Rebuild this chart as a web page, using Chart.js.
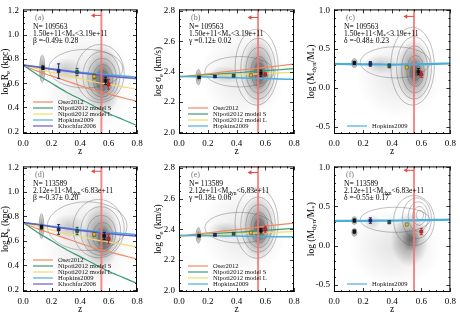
<!DOCTYPE html>
<html><head><meta charset="utf-8">
<script src="https://cdn.jsdelivr.net/npm/chart.js@4.4.0/dist/chart.umd.min.js"></script>
<style>
body{margin:0;background:#fff;width:460px;height:315px;overflow:hidden;position:relative}
canvas{position:absolute}
</style></head><body>
<canvas id="pa" width="150" height="157" style="left:0;top:0;width:150px;height:157px"></canvas>
<canvas id="pb" width="155" height="157" style="left:150px;top:0;width:155px;height:157px"></canvas>
<canvas id="pc" width="155" height="157" style="left:305px;top:0;width:155px;height:157px"></canvas>
<canvas id="pd" width="150" height="158" style="left:0;top:157px;width:150px;height:158px"></canvas>
<canvas id="pe" width="155" height="158" style="left:150px;top:157px;width:155px;height:158px"></canvas>
<canvas id="pf" width="155" height="158" style="left:305px;top:157px;width:155px;height:158px"></canvas>
<script>
var SERIF = '"Liberation Serif", "DejaVu Serif", serif';

// redshift grid for the model curves
var zGrid = [0, 0.1, 0.2, 0.3, 0.4, 0.5, 0.6, 0.7, 0.8];
var zCut = 0.55;

// model curves, size (log Re)
var reOser  = [0.75, 0.70, 0.66, 0.62, 0.58, 0.54, 0.51, 0.48, 0.45];
var reNipS  = [0.75, 0.67, 0.60, 0.53, 0.47, 0.41, 0.35, 0.30, 0.25];
var reNipL  = [0.75, 0.72, 0.69, 0.66, 0.64, 0.61, 0.59, 0.57, 0.55];
var reHop   = [0.75, 0.735, 0.72, 0.705, 0.69, 0.68, 0.67, 0.66, 0.65];
var reKhoch = [0.75, 0.733, 0.716, 0.70, 0.685, 0.672, 0.66, 0.648, 0.637];
// model curves, dispersion (log sigma)
var sgOserB = [2.365, 2.376, 2.386, 2.397, 2.408, 2.418, 2.429, 2.439, 2.45];
var sgNipSB = [2.365, 2.372, 2.379, 2.386, 2.393, 2.40, 2.407, 2.413, 2.42];
var sgNipLB = [2.365, 2.369, 2.373, 2.377, 2.381, 2.384, 2.388, 2.392, 2.395];
var sgHopB  = [2.37, 2.367, 2.365, 2.362, 2.36, 2.357, 2.355, 2.352, 2.35];
var sgOserE = [2.355, 2.366, 2.376, 2.387, 2.397, 2.408, 2.419, 2.43, 2.44];
var sgNipSE = [2.355, 2.361, 2.367, 2.374, 2.38, 2.386, 2.393, 2.399, 2.405];
var sgNipLE = [2.355, 2.359, 2.363, 2.366, 2.37, 2.374, 2.378, 2.381, 2.385];
var sgHopE  = [2.36, 2.359, 2.357, 2.356, 2.355, 2.354, 2.352, 2.351, 2.35];
// model curves, log(Mdyn/M*)
var mrHopC  = [0.31, 0.308, 0.305, 0.303, 0.302, 0.303, 0.306, 0.31, 0.315];
var mrHopF  = [0.315, 0.315, 0.316, 0.318, 0.32, 0.322, 0.325, 0.328, 0.332];

// binned measurements
var ptColors = ['#111111', '#22227a', '#1f5f5a', '#f0c020', '#111111', '#e02020'];
var ptZa = [0.14, 0.25, 0.38, 0.50, 0.58, 0.60];
var ptYa = [0.728, 0.70, 0.692, 0.655, 0.62, 0.59];
var ptEa = [0.015, 0.06, 0.03, 0.02, 0.03, 0.04];
var ptZb = [0.14, 0.25, 0.38, 0.50, 0.57, 0.60];
var ptYb = [2.363, 2.368, 2.374, 2.376, 2.39, 2.382];
var ptEb = [0.005, 0.006, 0.008, 0.008, 0.02, 0.01];
var ptZc = [0.14, 0.25, 0.38, 0.50, 0.58, 0.60];
var ptYc = [0.322, 0.31, 0.285, 0.265, 0.21, 0.175];
var ptEc = [0.02, 0.03, 0.025, 0.015, 0.04, 0.04];
var ptZd = [0.13, 0.25, 0.38, 0.50, 0.57, 0.60];
var ptYd = [0.712, 0.693, 0.68, 0.653, 0.64, 0.615];
var ptEd = [0.015, 0.04, 0.03, 0.015, 0.03, 0.04];
var ptZe = [0.14, 0.25, 0.38, 0.50, 0.57, 0.60];
var ptYe = [2.357, 2.363, 2.37, 2.377, 2.39, 2.40];
var ptEe = [0.005, 0.006, 0.006, 0.006, 0.015, 0.02];
var ptZf = [0.14, 0.14, 0.25, 0.38, 0.50, 0.60];
var ptYf = [0.32, 0.18, 0.32, 0.30, 0.27, 0.18];
var ptEf = [0.02, 0.02, 0.035, 0.02, 0.015, 0.04];
var ptColorsF = ['#111111', '#111111', '#22227a', '#1f5f5a', '#f0c020', '#e02020'];

// galaxy density: [z, y, spread z, spread y, weight]; contours: [z, y, spread z, spread y]
var densA = [[0.45,0.60,0.32,0.45,0.13],[0.135,0.72,0.025,0.13,0.6],[0.30,0.71,0.12,0.1,0.22],[0.56,0.63,0.13,0.3,0.55],[0.56,0.62,0.07,0.16,0.45]];
var contA = [[0.135,0.72,0.018,0.11],[0.44,0.72,0.26,0.16],[0.54,0.68,0.17,0.24],[0.55,0.66,0.13,0.2],[0.555,0.645,0.1,0.16],[0.56,0.635,0.07,0.12],[0.56,0.625,0.045,0.08]];
var densB = [[0.45,2.38,0.3,0.3,0.12],[0.135,2.365,0.02,0.06,0.65],[0.32,2.38,0.12,0.06,0.22],[0.555,2.40,0.12,0.24,0.55],[0.56,2.39,0.06,0.12,0.45]];
var contB = [[0.135,2.365,0.016,0.05],[0.42,2.40,0.24,0.1],[0.54,2.43,0.15,0.25],[0.55,2.42,0.12,0.2],[0.555,2.41,0.09,0.15],[0.56,2.40,0.06,0.1],[0.56,2.395,0.035,0.06]];
var densC = [[0.45,0.15,0.3,0.55,0.12],[0.14,0.32,0.025,0.07,0.75],[0.32,0.30,0.12,0.13,0.22],[0.55,0.22,0.12,0.42,0.55],[0.56,0.2,0.06,0.2,0.45]];
var contC = [[0.14,0.32,0.018,0.055],[0.42,0.33,0.24,0.2],[0.54,0.28,0.15,0.5],[0.55,0.26,0.12,0.4],[0.555,0.24,0.09,0.3],[0.56,0.22,0.06,0.2],[0.56,0.21,0.035,0.11]];
var densD = [[0.45,0.60,0.32,0.45,0.13],[0.13,0.72,0.022,0.12,0.6],[0.32,0.71,0.12,0.11,0.22],[0.55,0.64,0.13,0.28,0.55],[0.57,0.60,0.06,0.14,0.5]];
var contD = [[0.13,0.72,0.016,0.1],[0.45,0.72,0.28,0.2],[0.53,0.70,0.18,0.24],[0.545,0.68,0.14,0.2],[0.55,0.66,0.1,0.15],[0.56,0.64,0.07,0.11],[0.57,0.62,0.04,0.07]];
var densE = [[0.45,2.39,0.3,0.3,0.12],[0.135,2.36,0.02,0.06,0.65],[0.32,2.39,0.12,0.06,0.22],[0.555,2.41,0.12,0.22,0.55],[0.56,2.40,0.06,0.12,0.45]];
var contE = [[0.135,2.36,0.016,0.05],[0.42,2.41,0.24,0.1],[0.54,2.44,0.15,0.23],[0.55,2.43,0.12,0.18],[0.555,2.42,0.09,0.14],[0.56,2.41,0.06,0.1],[0.56,2.405,0.035,0.06]];
var densF = [[0.42,-0.02,0.32,0.5,0.13],[0.14,0.32,0.022,0.06,0.65],[0.14,0.17,0.022,0.06,0.75],[0.26,0.30,0.06,0.1,0.2],[0.52,0.08,0.13,0.35,0.5],[0.53,0.08,0.06,0.16,0.4]];
var contF = [[0.14,0.32,0.018,0.05],[0.14,0.17,0.018,0.05],[0.42,0.33,0.24,0.16],[0.55,0.32,0.14,0.32],[0.57,0.35,0.1,0.26],[0.58,0.37,0.07,0.19],[0.585,0.38,0.045,0.12],[0.59,0.39,0.025,0.06]];

var cOser = '#f08a60', cNipS = '#3a9a78', cNipL = '#f2dc6a', cHop = '#4aaedc', cKhoch = '#6a5ccc';

function rich(ctx, parts, x, y, size, font, align){
  var w = 0;
  parts.forEach(function(s){
    var sub = s.charAt(0) === '_';
    ctx.font = (sub ? size*0.72 : size) + 'px ' + font;
    w += ctx.measureText(sub ? s.slice(1) : s).width;
  });
  var cx = align === 'center' ? x - w/2 : x;
  parts.forEach(function(s){
    var sub = s.charAt(0) === '_';
    var t = sub ? s.slice(1) : s;
    ctx.font = (sub ? size*0.72 : size) + 'px ' + font;
    ctx.fillText(t, cx, sub ? y + size*0.3 : y);
    cx += ctx.measureText(t).width;
  });
}

function drawDensity(ch, p){
  var ctx = ch.ctx, a = ch.chartArea, xs = ch.scales.x, ys = ch.scales.y;
  ctx.save();
  ctx.beginPath(); ctx.rect(a.left, a.top, a.right-a.left, a.bottom-a.top); ctx.clip();
  p.dens.forEach(function(b){
    var px = xs.getPixelForValue(b[0]), py = ys.getPixelForValue(b[1]);
    var rx = Math.abs(xs.getPixelForValue(b[0]+b[2]) - px), ry = Math.abs(ys.getPixelForValue(b[1]+b[3]) - py);
    ctx.save();
    ctx.translate(px, py); ctx.scale(rx, ry);
    var g = ctx.createRadialGradient(0,0,0,0,0,1);
    g.addColorStop(0, 'rgba(40,40,40,' + b[4] + ')');
    g.addColorStop(0.45, 'rgba(40,40,40,' + (b[4]*0.55) + ')');
    g.addColorStop(1, 'rgba(40,40,40,0)');
    ctx.fillStyle = g;
    ctx.beginPath(); ctx.arc(0,0,1,0,Math.PI*2); ctx.fill();
    ctx.restore();
  });
  ctx.strokeStyle = 'rgba(90,90,90,0.65)'; ctx.lineWidth = 0.6;
  p.cont.forEach(function(c){
    var px = xs.getPixelForValue(c[0]), py = ys.getPixelForValue(c[1]);
    var rx = Math.abs(xs.getPixelForValue(c[0]+c[2]) - px), ry = Math.abs(ys.getPixelForValue(c[1]+c[3]) - py);
    ctx.beginPath(); ctx.ellipse(px, py, rx, ry, 0, 0, Math.PI*2); ctx.stroke();
  });
  ctx.restore();
}

function drawErr(ch, p){
  var ctx = ch.ctx, xs = ch.scales.x, ys = ch.scales.y;
  ctx.save(); ctx.lineWidth = 1;
  p.ptZ.forEach(function(z, i){
    var px = xs.getPixelForValue(z);
    var y1 = ys.getPixelForValue(p.ptY[i] - p.ptE[i]), y2 = ys.getPixelForValue(p.ptY[i] + p.ptE[i]);
    ctx.strokeStyle = p.ptC[i] === '#f0c020' ? '#7a6010' : p.ptC[i];
    ctx.beginPath();
    ctx.moveTo(px, y1); ctx.lineTo(px, y2);
    ctx.moveTo(px-1.5, y1); ctx.lineTo(px+1.5, y1);
    ctx.moveTo(px-1.5, y2); ctx.lineTo(px+1.5, y2);
    ctx.stroke();
  });
  ctx.restore();
}

function drawFrame(ch, p){
  var ctx = ch.ctx, a = ch.chartArea, xs = ch.scales.x, ys = ch.scales.y;
  ctx.save();
  ctx.strokeStyle = '#000'; ctx.lineWidth = 1;
  ctx.strokeRect(a.left+0.5, a.top+0.5, a.right-a.left-1, a.bottom-a.top-1);
  ctx.lineWidth = 0.8;
  ctx.beginPath();
  for (var k = 0; k <= 16; k++) {
    var v = k*0.05, px = Math.round(xs.getPixelForValue(v)) + 0.5;
    var L = (k % 4 === 0) ? 4 : 2;
    ctx.moveTo(px, a.bottom); ctx.lineTo(px, a.bottom-L);
    ctx.moveTo(px, a.top); ctx.lineTo(px, a.top+L);
  }
  var n0 = Math.ceil(ys.min/p.minor - 1e-6), n1 = Math.floor(ys.max/p.minor + 1e-6);
  for (var n = n0; n <= n1; n++) {
    var w = n*p.minor, py = Math.round(ys.getPixelForValue(w)) + 0.5;
    var r = w/p.step, Ly = Math.abs(r - Math.round(r)) < 1e-6 ? 4 : 2;
    ctx.moveTo(a.left, py); ctx.lineTo(a.left+Ly, py);
    ctx.moveTo(a.right, py); ctx.lineTo(a.right-Ly, py);
  }
  ctx.stroke();
  ctx.restore();
}

function drawText(ch, p){
  var ctx = ch.ctx, a = ch.chartArea;
  ctx.save();
  ctx.textBaseline = 'middle'; ctx.textAlign = 'left';
  ctx.fillStyle = '#777';
  ctx.font = '8px ' + SERIF;
  ctx.fillText(p.tag, a.left+12, a.top+9);
  ctx.fillStyle = '#000';
  rich(ctx, ['N= ' + p.nGal], a.left+10, a.top+18, 7.6, SERIF);
  rich(ctx, p.massLine, a.left+10, a.top+24.5, 7.6, SERIF);
  rich(ctx, [p.slope], a.left+10, a.top+32, 7.6, SERIF);
  // y title
  ctx.save();
  ctx.translate(p.titleX, (a.top+a.bottom)/2);
  ctx.rotate(-Math.PI/2);
  rich(ctx, p.ytitle, 0, 0, 9.5, SERIF, 'center');
  ctx.restore();
  ctx.restore();
}

function drawLegend(ch, p){
  var ctx = ch.ctx, a = ch.chartArea;
  var n = p.models.length;
  ctx.save();
  ctx.textBaseline = 'middle'; ctx.textAlign = 'left';
  ctx.font = '6.6px ' + SERIF;
  p.models.forEach(function(m, i){
    var y = a.bottom - 8 - (n-1-i)*6;
    ctx.strokeStyle = m.color; ctx.lineWidth = 1.2;
    ctx.beginPath(); ctx.moveTo(a.left+p.legX, y); ctx.lineTo(a.left+p.legX+20, y); ctx.stroke();
    ctx.fillStyle = '#111';
    ctx.fillText(m.label, a.left+p.legX+25, y);
  });
  ctx.restore();
}

function makePanel(id, p){
  var sets = [];
  var pts = p.ptZ.map(function(z, i){ return {x: z, y: p.ptY[i]}; });
  sets.push({data: pts, showLine: false, pointStyle: 'rect', pointRadius: 2.2,
    pointBackgroundColor: p.ptC, pointBorderColor: '#222', pointBorderWidth: 0.4});
  sets.push({data: [{x: zCut, y: p.arrowY}, {x: zCut - 0.055, y: p.arrowY}], borderColor: '#e84a40', borderWidth: 1,
    pointRadius: [0, 2.6], pointStyle: 'triangle', rotation: -90, pointBackgroundColor: '#e84a40', pointBorderWidth: 0});
  sets.push({data: [{x: zCut, y: p.ymin}, {x: zCut, y: p.ymax}], borderColor: 'rgba(240,120,115,0.85)', borderWidth: 2, pointRadius: 0});
  p.models.slice().reverse().forEach(function(m){
    sets.push({label: m.label, data: zGrid.map(function(z, i){ return {x: z, y: m.vals[i]}; }),
      borderColor: m.color, borderWidth: m.w || 1.2, pointRadius: 0, tension: 0.3});
  });
  var deco = {
    id: 'deco',
    beforeDatasetsDraw: function(ch){ drawDensity(ch, p); },
    beforeDatasetDraw: function(ch, args){ if (args.index === 0) drawErr(ch, p); },
    afterDraw: function(ch){ drawFrame(ch, p); drawText(ch, p); drawLegend(ch, p); }
  };
  new Chart(document.getElementById(id), {
    type: 'line',
    data: {datasets: sets},
    options: {
      responsive: false, animation: false,
      layout: {padding: {top: p.padTop, right: p.padRight, left: 0, bottom: 0}},
      plugins: {legend: {display: false}, tooltip: {enabled: false}},
      scales: {
        x: {type: 'linear', min: 0, max: 0.8,
          ticks: {stepSize: 0.2, includeBounds: false, maxRotation: 0, padding: 4, color: '#000',
            font: {family: SERIF, size: 9}, callback: function(v){ return v.toFixed(1); }},
          grid: {display: false, drawTicks: false}, border: {display: false},
          title: {display: true, text: 'z', color: '#000', font: {family: SERIF, size: 9.5}, padding: {top: 0, bottom: 0}},
          afterFit: function(s){ s.height = 23; }},
        y: {type: 'linear', min: p.ymin, max: p.ymax,
          ticks: {stepSize: p.step, includeBounds: false, padding: 4, color: '#000',
            font: {family: SERIF, size: 9}, callback: function(v){ return v.toFixed(1); }},
          grid: {display: false, drawTicks: false}, border: {display: false},
          afterFit: function(s){ s.width = p.axW; }}
      }
    },
    plugins: [deco]
  });
}

var mass1 = ['1.50e+11<M', '_*', '<3.19e+11'];
var mass2 = ['2.12e+11<M', '_dyn', '<6.83e+11'];

makePanel('pa', {tag: '(a)', nGal: '109563', massLine: mass1, slope: 'β =-0.49± 0.28',
  ytitle: ['log R', '_e', ' (kpc)'], titleX: 5, axW: 23, padTop: 5, padRight: 13,
  ymin: 0.18, ymax: 1.21, step: 0.2, minor: 0.05, arrowY: 1.16, legX: 10,
  dens: densA, cont: contA, ptZ: ptZa, ptY: ptYa, ptE: ptEa, ptC: ptColors,
  models: [
    {label: 'Oser2012', color: cOser, vals: reOser},
    {label: 'Nipoti2012 model S', color: cNipS, vals: reNipS},
    {label: 'Nipoti2012 model L', color: cNipL, vals: reNipL},
    {label: 'Hopkins2009', color: cHop, vals: reHop, w: 1.5},
    {label: 'Khochfar2006', color: cKhoch, vals: reKhoch, w: 1.5}]});

makePanel('pb', {tag: '(b)', nGal: '109563', massLine: mass1, slope: 'γ =0.12± 0.02',
  ytitle: ['log σ', '_e', ' (km/s)'], titleX: 8, axW: 29, padTop: 5, padRight: 11,
  ymin: 1.99, ymax: 2.81, step: 0.2, minor: 0.05, arrowY: 2.757, legX: 9,
  dens: densB, cont: contB, ptZ: ptZb, ptY: ptYb, ptE: ptEb, ptC: ptColors,
  models: [
    {label: 'Oser2012', color: cOser, vals: sgOserB},
    {label: 'Nipoti2012 model S', color: cNipS, vals: sgNipSB},
    {label: 'Nipoti2012 model L', color: cNipL, vals: sgNipLB},
    {label: 'Hopkins2009', color: cHop, vals: sgHopB, w: 1.5}]});

makePanel('pc', {tag: '(c)', nGal: '109563', massLine: mass1, slope: 'δ =-0.48± 0.23',
  ytitle: ['log (M', '_dyn', '/M', '_*', ')'], titleX: 6, axW: 29, padTop: 5, padRight: 8,
  ymin: -0.59, ymax: 1.01, step: 0.5, minor: 0.1, arrowY: 0.92, legX: 13,
  dens: densC, cont: contC, ptZ: ptZc, ptY: ptYc, ptE: ptEc, ptC: ptColors,
  models: [{label: 'Hopkins2009', color: cHop, vals: mrHopC, w: 2.2}]});

makePanel('pd', {tag: '(d)', nGal: '113589', massLine: mass2, slope: 'β =-0.37± 0.20',
  ytitle: ['log R', '_e', ' (kpc)'], titleX: 5, axW: 23, padTop: 8, padRight: 13,
  ymin: 0.18, ymax: 1.21, step: 0.2, minor: 0.05, arrowY: 1.17, legX: 10,
  dens: densD, cont: contD, ptZ: ptZd, ptY: ptYd, ptE: ptEd, ptC: ptColors,
  models: [
    {label: 'Oser2012', color: cOser, vals: reOser},
    {label: 'Nipoti2012 model S', color: cNipS, vals: reNipS},
    {label: 'Nipoti2012 model L', color: cNipL, vals: reNipL},
    {label: 'Hopkins2009', color: cHop, vals: reHop, w: 1.5},
    {label: 'Khochfar2006', color: cKhoch, vals: reKhoch, w: 1.5}]});

makePanel('pe', {tag: '(e)', nGal: '113589', massLine: mass2, slope: 'γ =0.18± 0.06',
  ytitle: ['log σ', '_e', ' (km/s)'], titleX: 8, axW: 29, padTop: 8, padRight: 11,
  ymin: 1.99, ymax: 2.81, step: 0.2, minor: 0.05, arrowY: 2.77, legX: 9,
  dens: densE, cont: contE, ptZ: ptZe, ptY: ptYe, ptE: ptEe, ptC: ptColors,
  models: [
    {label: 'Oser2012', color: cOser, vals: sgOserE},
    {label: 'Nipoti2012 model S', color: cNipS, vals: sgNipSE},
    {label: 'Nipoti2012 model L', color: cNipL, vals: sgNipLE},
    {label: 'Hopkins2009', color: cHop, vals: sgHopE, w: 1.5}]});

makePanel('pf', {tag: '(f)', nGal: '113589', massLine: mass2, slope: 'δ =-0.55± 0.17',
  ytitle: ['log (M', '_dyn', '/M', '_*', ')'], titleX: 6, axW: 29, padTop: 8, padRight: 8,
  ymin: -0.59, ymax: 1.01, step: 0.5, minor: 0.1, arrowY: 0.96, legX: 13,
  dens: densF, cont: contF, ptZ: ptZf, ptY: ptYf, ptE: ptEf, ptC: ptColorsF,
  models: [{label: 'Hopkins2009', color: cHop, vals: mrHopF, w: 2.2}]});
</script>
</body></html>
